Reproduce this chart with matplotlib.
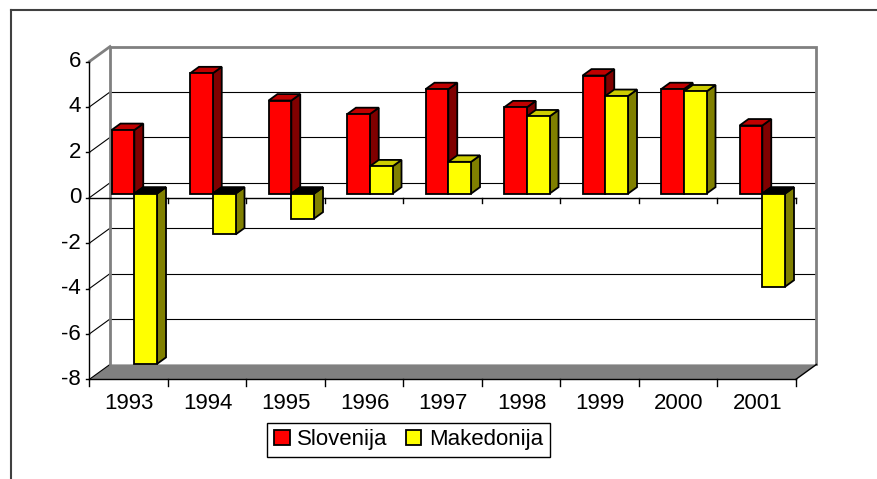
import matplotlib
matplotlib.use('Agg')
import matplotlib.pyplot as plt
from matplotlib.lines import Line2D
from matplotlib.patches import Patch, Polygon

plt.rcParams['font.family'] = ['Liberation Sans', 'DejaVu Sans']

years = ['1993', '1994', '1995', '1996', '1997', '1998', '1999', '2000', '2001']
slovenija = [2.8, 5.3, 4.1, 3.5, 4.6, 3.8, 5.2, 4.6, 3.0]
makedonija = [-7.5, -1.8, -1.1, 1.2, 1.4, 3.4, 4.3, 4.5, -4.1]
yticks = [-8, -6, -4, -2, 0, 2, 4, 6]

# pseudo-3d projection: depth d in [0, 1] shifts right and up
DX, DY = 20.7 / 78.5, 15 / 22.7
D0, D1 = 0.28, 0.71
YMIN, YMAX = -8, 6
N = len(years)
FS = 16


def proj(c, v, d):
    return (c + DX * d, v + DY * d)


def bar(ax, c0, c1, v, face, side, top):
    lo, hi = min(0, v), max(0, v)
    front = [proj(c0, lo, D0), proj(c1, lo, D0), proj(c1, hi, D0), proj(c0, hi, D0)]
    sidep = [proj(c1, lo, D0), proj(c1, lo, D1), proj(c1, hi, D1), proj(c1, hi, D0)]
    topp = [proj(c0, hi, D0), proj(c1, hi, D0), proj(c1, hi, D1), proj(c0, hi, D1)]
    if v < 0:
        top = '#000000'
    for pts, col in ((sidep, side), (topp, top), (front, face)):
        ax.add_patch(Polygon(pts, closed=True, facecolor=col, edgecolor='black',
                             lw=1.3, joinstyle='miter', zorder=5))


fig = plt.figure(figsize=(8.78, 4.79), dpi=100)
ax = fig.add_axes([0, 0, 1, 1])
ax.set_xlim(-89.3 / 78.5, (878 - 89.3) / 78.5)
ax.set_ylim((197.8 - 479) / 22.7, 197.8 / 22.7)
ax.axis('off')

# floor
floor = [proj(0, YMIN, 0), proj(N, YMIN, 0), proj(N, YMIN, 1), proj(0, YMIN, 1)]
ax.add_patch(Polygon(floor, closed=True, facecolor='#808080', edgecolor='none', zorder=1))

# back wall gridlines and left wall lines
for v in yticks[1:-1]:
    xs, ys = zip(proj(0, v, 1), proj(N, v, 1))
    ax.plot(xs, ys, color='black', lw=0.8, zorder=2)
for v in yticks[:-1]:
    xs, ys = zip(proj(0, v, 0), proj(0, v, 1))
    ax.plot(xs, ys, color='black', lw=0.8, zorder=2)

# back wall border
xs, ys = zip(proj(0, YMIN, 1), proj(0, YMAX, 1), proj(N, YMAX, 1), proj(N, YMIN, 1))
ax.plot(xs, ys, color='#808080', lw=2, zorder=2, solid_joinstyle='miter')
xs, ys = zip(proj(0, YMAX, 0), proj(0, YMAX, 1))
ax.plot(xs, ys, color='#808080', lw=2, zorder=2)

# front axes
ax.plot([0, 0], [YMIN, YMAX], color='black', lw=1, zorder=3)
ax.plot([0, N], [0, 0], color='black', lw=1, zorder=3)
ax.plot([0, N], [YMIN, YMIN], color='black', lw=1, zorder=3)
xs, ys = zip(proj(N, YMIN, 0), proj(N, YMIN, 1))
ax.plot(xs, ys, color='black', lw=1, zorder=3)
for v in yticks:
    ax.plot([-0.04, 0], [v, v], color='black', lw=1, zorder=3)
    ax.text(-0.105, v, str(v), ha='right', va='center', fontsize=FS)
for i in range(N + 1):
    ax.plot([i, i], [YMIN, YMIN - 0.28], color='black', lw=1, zorder=3)
    if i > 0:
        ax.plot([i, i], [0, -0.25], color='black', lw=1, zorder=3)
for i, y in enumerate(years):
    ax.text(i + 0.51, -9.04, y, ha='center', va='center', fontsize=FS)

# bars
for i in range(N):
    bar(ax, i + 0.21, i + 0.50, slovenija[i], '#FF0000', '#800000', '#C00000')
    bar(ax, i + 0.50, i + 0.79, makedonija[i], '#FFFF00', '#808000', '#CCCC00')

handles = [Patch(facecolor='#FF0000', edgecolor='black', lw=1.3, label='Slovenija'),
           Patch(facecolor='#FFFF00', edgecolor='black', lw=1.3, label='Makedonija')]
leg = fig.legend(handles=handles, loc='center', bbox_to_anchor=(0.4653, 0.082), ncol=2,
                 fontsize=FS, frameon=True, fancybox=False, framealpha=1,
                 handlelength=0.7, handleheight=0.7, handletextpad=0.35,
                 columnspacing=0.8, borderpad=0.3, borderaxespad=0)
leg.get_frame().set_edgecolor('black')
leg.get_frame().set_linewidth(1)

# chart area border (top and left visible)
fig.add_artist(Line2D([11 / 878, 1], [1 - 10 / 479, 1 - 10 / 479], color='#404040', lw=1.5))
fig.add_artist(Line2D([11 / 878, 11 / 878], [0, 1 - 10 / 479], color='#404040', lw=1.5))

fig.savefig('out.png', dpi=100)
